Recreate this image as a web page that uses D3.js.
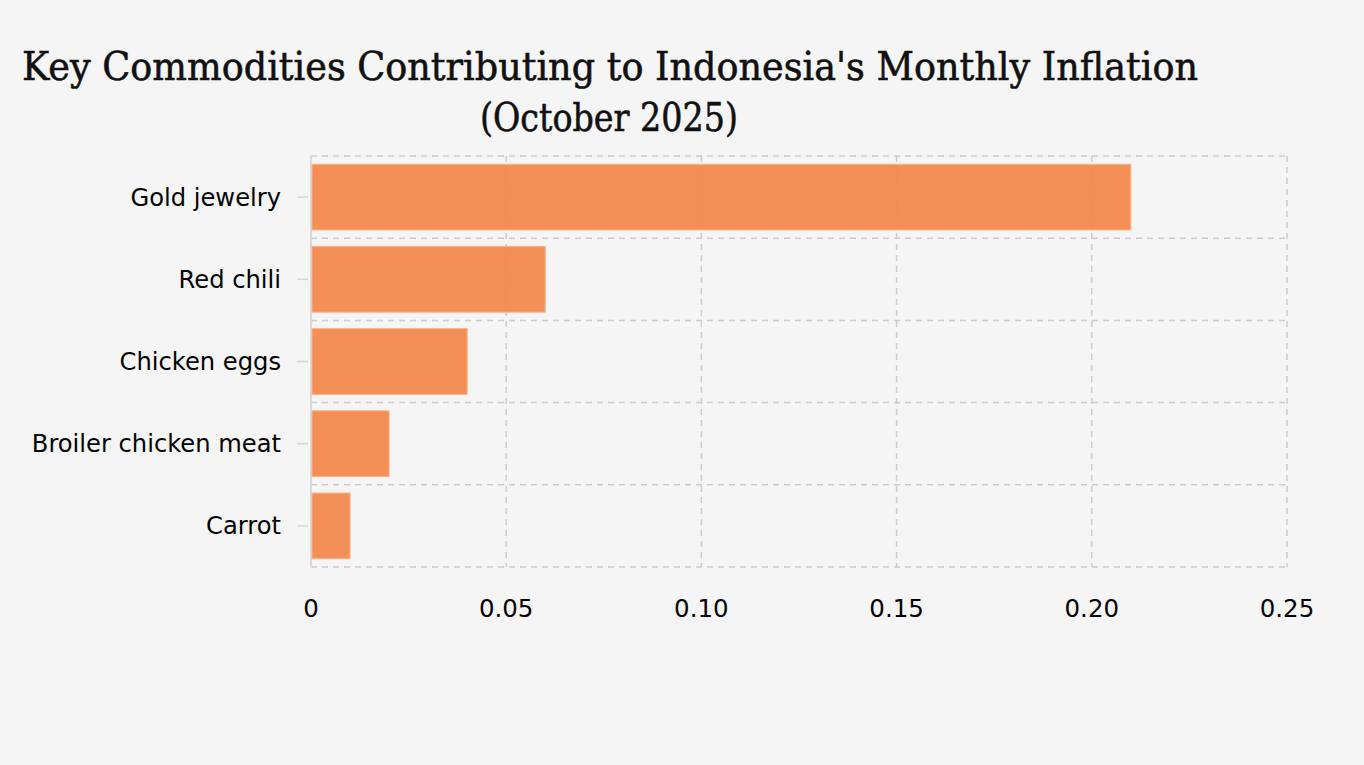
<!DOCTYPE html>
<html>
<head>
<meta charset="utf-8">
<script src="https://cdn.jsdelivr.net/npm/d3@7"></script>
<style>
  body { margin: 0; background: #f5f5f5; }
  svg { display: block; }
</style>
</head>
<body>
<svg id="chart"></svg>
<script>
const commodities = ["Gold jewelry", "Red chili", "Chicken eggs", "Broiler chicken meat", "Carrot"];
const contributions = [0.21, 0.06, 0.04, 0.02, 0.01];
const xTicks = [0, 0.05, 0.1, 0.15, 0.2, 0.25];
const xTickLabels = ["0", "0.05", "0.10", "0.15", "0.20", "0.25"];
const titleLines = ["Key Commodities Contributing to Indonesia's Monthly Inflation", "(October 2025)"];

const width = 1364, height = 765;
const margin = { top: 156, right: 77, bottom: 198, left: 311 };

const svg = d3.select("#chart").attr("width", width).attr("height", height);

const data = commodities.map((c, i) => ({ name: c, value: contributions[i] }));

const x = d3.scaleLinear()
  .domain([0, 0.25])
  .range([margin.left, width - margin.right]);

const y = d3.scaleBand()
  .domain(commodities)
  .range([margin.top, height - margin.bottom])
  .paddingInner(0.2)
  .paddingOuter(0.1);

const gridColor = "#cccccc";
const grid = svg.append("g");

// vertical dashed grid lines
grid.selectAll("line.vx")
  .data(xTicks.slice(1))
  .join("line")
  .attr("class", "vx")
  .attr("x1", d => x(d)).attr("x2", d => x(d))
  .attr("y1", margin.top).attr("y2", height - margin.bottom)
  .attr("stroke", gridColor)
  .attr("stroke-width", 1.5)
  .attr("stroke-dasharray", "6,5");

// horizontal dashed lines at category boundaries
const step = y.step();
const bounds = d3.range(commodities.length + 1).map(i => margin.top + i * step);
grid.selectAll("line.hy")
  .data(bounds)
  .join("line")
  .attr("class", "hy")
  .attr("x1", margin.left).attr("x2", width - margin.right)
  .attr("y1", d => d).attr("y2", d => d)
  .attr("stroke", gridColor)
  .attr("stroke-width", 1.5)
  .attr("stroke-dasharray", "6,5");

// zero line
grid.append("line")
  .attr("x1", x(0)).attr("x2", x(0))
  .attr("y1", margin.top).attr("y2", height - margin.bottom)
  .attr("stroke", "#d9d9d9")
  .attr("stroke-width", 2);

// bars
svg.append("g")
  .selectAll("rect")
  .data(data)
  .join("rect")
  .attr("x", x(0) + 1)
  .attr("y", d => y(d.name))
  .attr("width", d => x(d.value) - x(0) - 1)
  .attr("height", y.bandwidth())
  .attr("fill", "#f3884a")
  .attr("fill-opacity", 0.93)
  .attr("stroke", "#f7b48a")
  .attr("stroke-width", 1);

// y axis labels and ticks
const yAxis = svg.append("g");
yAxis.selectAll("line")
  .data(commodities)
  .join("line")
  .attr("x1", margin.left - 14).attr("x2", margin.left - 3)
  .attr("y1", d => y(d) + y.bandwidth() / 2)
  .attr("y2", d => y(d) + y.bandwidth() / 2)
  .attr("stroke", "#d6d6d6")
  .attr("stroke-width", 1.5);
yAxis.selectAll("text")
  .data(commodities)
  .join("text")
  .attr("x", margin.left - 30)
  .attr("y", d => y(d) + y.bandwidth() / 2)
  .attr("dy", "0.35em")
  .attr("text-anchor", "end")
  .attr("font-family", "'DejaVu Sans', Verdana, sans-serif")
  .attr("font-size", 24.2)
  .attr("fill", "#000")
  .text(d => d);

// x axis labels
svg.append("g")
  .selectAll("text")
  .data(xTicks)
  .join("text")
  .attr("x", d => x(d))
  .attr("y", 617)
  .attr("text-anchor", "middle")
  .attr("font-family", "'DejaVu Sans', Verdana, sans-serif")
  .attr("font-size", 24.5)
  .attr("fill", "#000")
  .text((d, i) => xTickLabels[i]);

// title
const title = svg.append("g")
  .attr("font-family", "'DejaVu Serif', serif")
  .attr("fill", "#111")
  .attr("stroke", "#111")
  .attr("stroke-width", 0.6);
title.append("text")
  .attr("x", 610).attr("y", 80)
  .attr("text-anchor", "middle")
  .attr("font-size", 39)
  .attr("textLength", 1176)
  .attr("lengthAdjust", "spacingAndGlyphs")
  .text(titleLines[0]);
title.append("text")
  .attr("x", 609).attr("y", 131)
  .attr("text-anchor", "middle")
  .attr("font-size", 39)
  .attr("textLength", 258)
  .attr("lengthAdjust", "spacingAndGlyphs")
  .text(titleLines[1]);
</script>
</body>
</html>
